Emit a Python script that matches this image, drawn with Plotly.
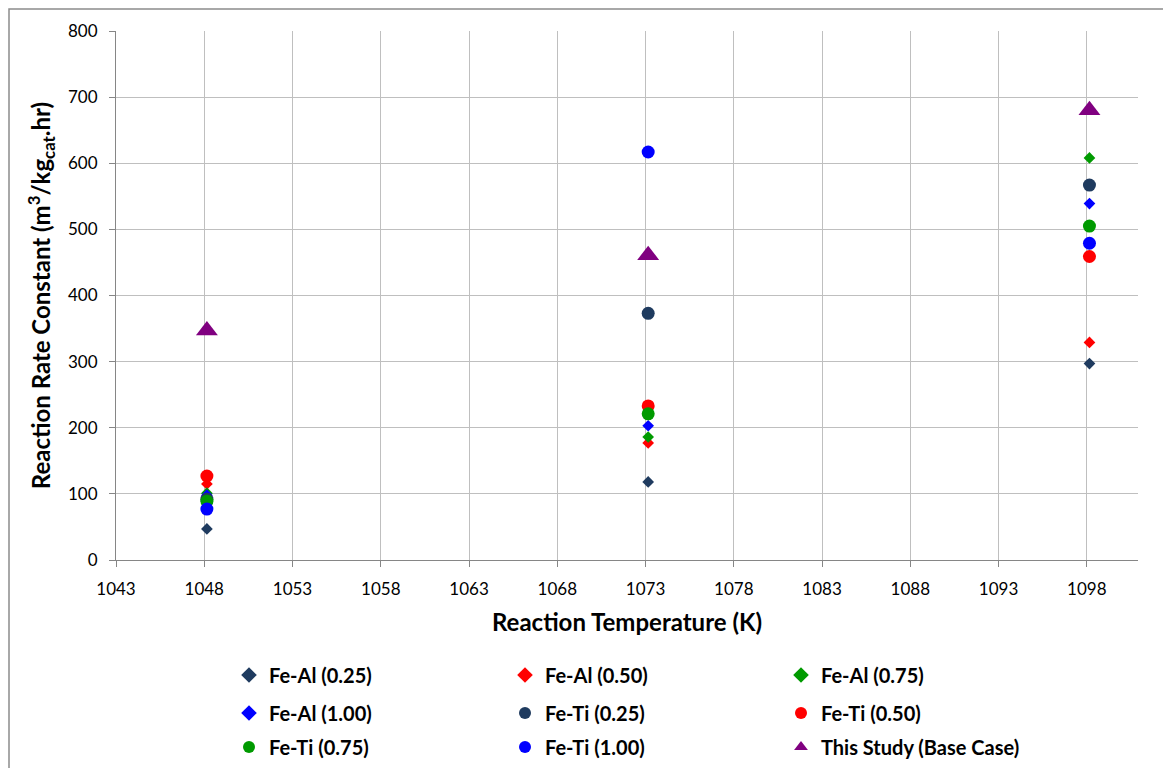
import plotly.graph_objects as go

temps = [1048.15, 1073.15, 1098.15]

series_names = ["Fe-Al (0.25)", "Fe-Al (0.50)", "Fe-Al (0.75)",
                "Fe-Al (1.00)", "Fe-Ti (0.25)", "Fe-Ti (0.50)",
                "Fe-Ti (0.75)", "Fe-Ti (1.00)", "This Study (Base Case)"]

fe_al_025 = [47, 118, 297]
fe_al_050 = [115, 177, 329]
fe_al_075 = [101, 186, 608]
fe_al_100 = [98, 203, 539]
fe_ti_025 = [92, 373, 567]
fe_ti_050 = [127, 233, 459]
fe_ti_075 = [89, 221, 505]
fe_ti_100 = [77, 617, 479]
this_study = [347, 461, 680]

x_ticks = [1043, 1048, 1053, 1058, 1063, 1068, 1073, 1078, 1083, 1088, 1093, 1098]
y_ticks = [0, 100, 200, 300, 400, 500, 600, 700, 800]

values = [fe_al_025, fe_al_050, fe_al_075, fe_al_100, fe_ti_025,
          fe_ti_050, fe_ti_075, fe_ti_100, this_study]
colors = ["#1F3B5F", "#FF0000", "#009A00", "#0000FF", "#1F3B5F",
          "#FF0000", "#009A00", "#0000FF", "#800080"]
symbols = ["diamond"] * 4 + ["circle"] * 4 + ["triangle-up"]
sizes = [9] * 4 + [13] * 4 + [19]
legends = ["legend", "legend", "legend", "legend2", "legend2", "legend2",
           "legend3", "legend3", "legend3"]

FONT = "Lato, 'Open Sans', sans-serif"

fig = go.Figure()
for name, vals, c, s, sz, lg in zip(series_names, values, colors, symbols, sizes, legends):
    fig.add_trace(go.Scatter(
        x=temps, y=vals, mode="markers", name=name, legend=lg,
        marker=dict(color=c, symbol=s, size=sz, line=dict(width=0)),
    ))

# page body has an 8px margin; target plot area is x 116..1138, y 31..560
OFF = 8
W, H = 1163, 760
L, R, T, B = 116 - OFF, 33, 31 - OFF, 208
pw = W - L - R
ph = H - T - B


def px_x(px):
    return (px - OFF - L) / pw


def px_y(py):
    return (H - B - (py - OFF)) / ph


leg_common = dict(
    orientation="h", xanchor="left", yanchor="middle",
    entrywidth=231, entrywidthmode="pixels", itemsizing="constant",
    font=dict(family=FONT, size=20, color="#000000", weight="bold"),
    bgcolor="rgba(0,0,0,0)", borderwidth=0, tracegroupgap=0,
)

fig.update_layout(
    width=W, height=H,
    margin=dict(l=L, r=R, t=T, b=B, autoexpand=False),
    paper_bgcolor="white", plot_bgcolor="white",
    font=dict(family=FONT, size=17, color="#000000"),
    showlegend=True,
    legend=dict(x=px_x(229), y=px_y(675), **leg_common),
    legend2=dict(x=px_x(229), y=px_y(713), **leg_common),
    legend3=dict(x=px_x(229), y=px_y(747), **leg_common),
    xaxis=dict(
        range=[1043, 1100.9], tickmode="array", tickvals=x_ticks,
        ticktext=[str(v) for v in x_ticks],
        showgrid=True, gridcolor="#BFBFBF", gridwidth=1,
        showline=True, linecolor="#868686", linewidth=1,
        ticks="outside", ticklen=6, tickcolor="#868686",
        ticklabelstandoff=8,
        tickfont=dict(family=FONT, size=17, color="#000000"),
        zeroline=False,
        title=dict(text="Reaction Temperature (K)", standoff=15,
                   font=dict(family=FONT, size=24, color="#000000", weight="bold")),
    ),
    yaxis=dict(
        range=[0, 800], tickmode="array", tickvals=y_ticks,
        showgrid=True, gridcolor="#BFBFBF", gridwidth=1,
        showline=True, linecolor="#868686", linewidth=1,
        ticks="outside", ticklen=6, tickcolor="#868686",
        ticklabelstandoff=8,
        tickfont=dict(family=FONT, size=17, color="#000000"),
        zeroline=False,
        title=dict(text="Reaction Rate Constant (m<sup>3</sup>/kg<sub>cat</sub>.hr)",
                   standoff=10,
                   font=dict(family=FONT, size=24, color="#000000", weight="bold")),
    ),
    shapes=[dict(
        type="rect", xref="paper", yref="paper",
        x0=px_x(9), x1=px_x(1200), y0=px_y(800), y1=px_y(9),
        line=dict(color="#8C8C8C", width=1.5), fillcolor="rgba(0,0,0,0)",
        layer="below",
    )],
)

fig.write_html("out.html")
